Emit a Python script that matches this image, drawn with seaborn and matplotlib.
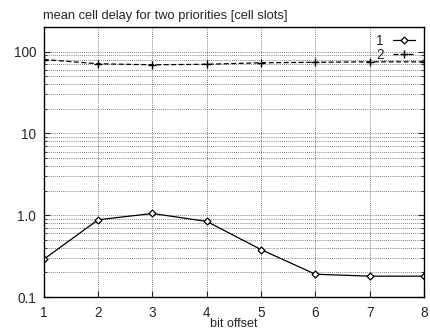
import matplotlib
matplotlib.use("Agg")
import matplotlib.pyplot as plt
import seaborn as sns
import pandas as pd
import numpy as np
from matplotlib.ticker import LogLocator, FixedLocator, NullFormatter

bit_offset = [1, 2, 3, 4, 5, 6, 7, 8]
delay_prio1 = [0.29, 0.88, 1.05, 0.84, 0.38, 0.19, 0.18, 0.18]
delay_prio2 = [80, 71, 69, 70, 73, 74, 75, 75]
series_labels = ["1", "2"]
ytick_vals = [0.1, 1.0, 10, 100]
ytick_labels = ["0.1", "1.0", "10", "100"]

df = pd.DataFrame({
    "bit offset": bit_offset * 2,
    "delay": delay_prio1 + delay_prio2,
    "series": [series_labels[0]] * 8 + [series_labels[1]] * 8,
})

sns.set_style("white")
plt.rcParams["font.family"] = ["Liberation Sans", "DejaVu Sans"]

fig = plt.figure(figsize=(4.30, 3.33), dpi=100)
ax = fig.add_axes([0.102, 0.108, 0.884, 0.811])

sns.lineplot(data=df[df.series == "1"], x="bit offset", y="delay", ax=ax,
             color="black", lw=0.9, marker="D", markersize=3.5,
             markerfacecolor="white", markeredgecolor="black", markeredgewidth=0.9,
             label="1")
sns.lineplot(data=df[df.series == "2"], x="bit offset", y="delay", ax=ax,
             color="black", lw=0.9, linestyle=(0, (4, 2)), marker="+", markersize=6,
             markeredgecolor="black", markeredgewidth=1.0, label="2")

ax.set_yscale("log")
ax.set_ylim(0.1, 200)
ax.set_xlim(1, 8)
ax.set_xticks(bit_offset)
ax.set_xticklabels([str(b) for b in bit_offset])
ax.yaxis.set_major_locator(FixedLocator(ytick_vals))
ax.set_yticklabels(ytick_labels)
ax.yaxis.set_minor_locator(LogLocator(base=10, subs=np.arange(2, 10)))
ax.yaxis.set_minor_formatter(NullFormatter())

ax.grid(True, which="both", axis="y", color="#555555", linestyle=(0, (1, 1.5)), lw=0.6)
ax.grid(True, which="major", axis="x", color="#555555", linestyle=(0, (1, 1.5)), lw=0.6)

ax.tick_params(axis="both", which="major", direction="in", length=4, width=0.8,
               labelsize=9.8, right=True, top=False, left=True, bottom=True)
ax.tick_params(axis="y", which="major", pad=5.5)
ax.tick_params(axis="x", which="major", pad=6.5)
ax.tick_params(axis="y", which="minor", direction="in", length=2, width=0.6,
               right=True, left=True)
for s in ax.spines.values():
    s.set_color("black")
    s.set_linewidth(1.0)

ax.set_xlabel("bit offset", fontsize=9, labelpad=-1.2)
ax.set_ylabel("")
ax.set_title("mean cell delay for two priorities [cell slots]", loc="left",
             fontsize=9.3, pad=6, x=-0.003)

leg = ax.legend(loc="upper right", bbox_to_anchor=(0.987, 0.989), frameon=False,
                markerfirst=False, fontsize=9.8,
                handlelength=1.6, handletextpad=0.7, labelspacing=0.0,
                borderaxespad=0.0, borderpad=0.3)

fig.text(0.05, -0.083, "Fig. 14: mean cell delay in the SWIF switch with bit offset",
         fontsize=20, family=["Liberation Serif", "DejaVu Serif"], va="bottom")

fig.savefig("out.png", dpi=100)
